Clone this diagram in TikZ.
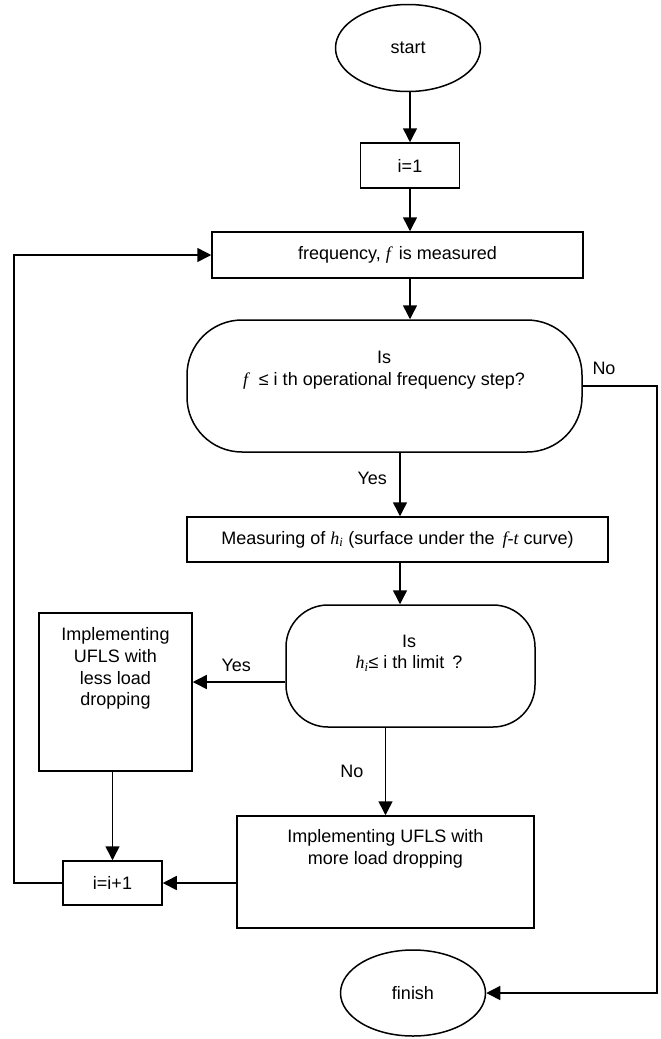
\documentclass[tikz,border=0pt]{standalone}
\usepackage{fontspec}
\setmainfont{Liberation Sans}
\newfontfamily\tms{Liberation Serif}
\usetikzlibrary{shapes.geometric,arrows.meta,calc}
\newcommand{\mi}[1]{{\tms\itshape #1}}
\begin{document}
\begin{tikzpicture}[x=1pt,y=-1pt,
  line width=1.5pt,
  font=\fontsize{18}{21.7}\selectfont,
  arr/.style={-{Triangle[length=14pt,width=14pt]}},
  term/.style={draw,ellipse,inner sep=0pt,minimum width=145pt,minimum height=87pt},
  box/.style={draw,rectangle,inner sep=0pt},
  dec/.style={draw,rectangle,inner sep=0pt},
  txt/.style={align=center,inner sep=0pt}]
\useasboundingbox (0,0) rectangle (661,1039);
% nodes
\node[term] (start) at (408,48) {start};
\node[box,minimum width=99pt,minimum height=45pt] (i1) at (410,165.5) {i=1};
\node[box,minimum width=371pt,minimum height=46pt] (freq) at (397.5,255) {frequency, \mi{f} \,is measured};
\node[dec,rounded corners=55pt,minimum width=395pt,minimum height=132pt] (d1) at (384.5,386) {};
\node[txt] (d1t) at (384,370) {Is\\\mi{f}\hspace{0.6em}≤ i th operational frequency step?};
\node[box,minimum width=421pt,minimum height=45pt] (meas) at (397.5,539.5) {Measuring of \mi{h}\textsubscript{\mi{i}} (surface under the \,\mi{f-t} curve)};
\node[dec,rounded corners=42pt,minimum width=249pt,minimum height=122pt] (d2) at (410.5,666) {};
\node[txt] (d2t) at (409,653) {Is\\\mi{h}\textsubscript{\mi{i}}≤ i th limit \,?};
\node[box,minimum width=153pt,minimum height=158pt] (less) at (115.5,692) {};
\node[txt] (lesst) at (115.5,668.5) {Implementing\\UFLS with\\less load\\dropping};
\node[box,minimum width=297pt,minimum height=112pt] (more) at (385.5,872) {};
\node[txt] (moret) at (385.5,848.5) {Implementing UFLS with\\more load dropping};
\node[box,minimum width=99pt,minimum height=44pt] (inc) at (112.5,883) {i=i+1};
\node[term,minimum height=86pt] (finish) at (413,993) {finish};
% helper coordinates
\coordinate (colA) at (400,0);
\coordinate (rowY) at (0,682);
\coordinate (lx) at (14,0);
\coordinate (rx) at (657,0);
% connectors
\draw[arr] (i1.north |- start.south) -- (i1.north);
\draw[arr] (i1.south) -- (i1.south |- freq.north);
\draw[arr] (i1.south |- freq.south) -- (i1.south |- d1.north);
\draw[arr] (d1.south -| colA) -- node[left=9pt,pos=0.4] (yes1) {Yes} (meas.north -| colA);
\draw[arr] (meas.south -| colA) -- (d2.north -| colA);
\draw[arr] (d2.west |- rowY) -- node[above=6pt,pos=0.53] (yes2) {Yes} (less.east |- rowY);
\draw[arr] (more.north |- d2.south) -- node[left=18pt,pos=0.5] (no2) {No} (more.north);
\draw[arr] (inc.north |- less.south) -- (inc.north);
\draw[arr] (more.west |- inc.east) -- (inc.east);
\draw[arr] (inc.west) -- (inc.west -| lx) -- (freq.west -| lx) -- (freq.west);
\draw[arr] (d1.east) -- (d1.east -| rx) -- (finish.east -| rx) -- (finish.east);
\node (no1) at (604,368) {No};
\end{tikzpicture}
\end{document}
